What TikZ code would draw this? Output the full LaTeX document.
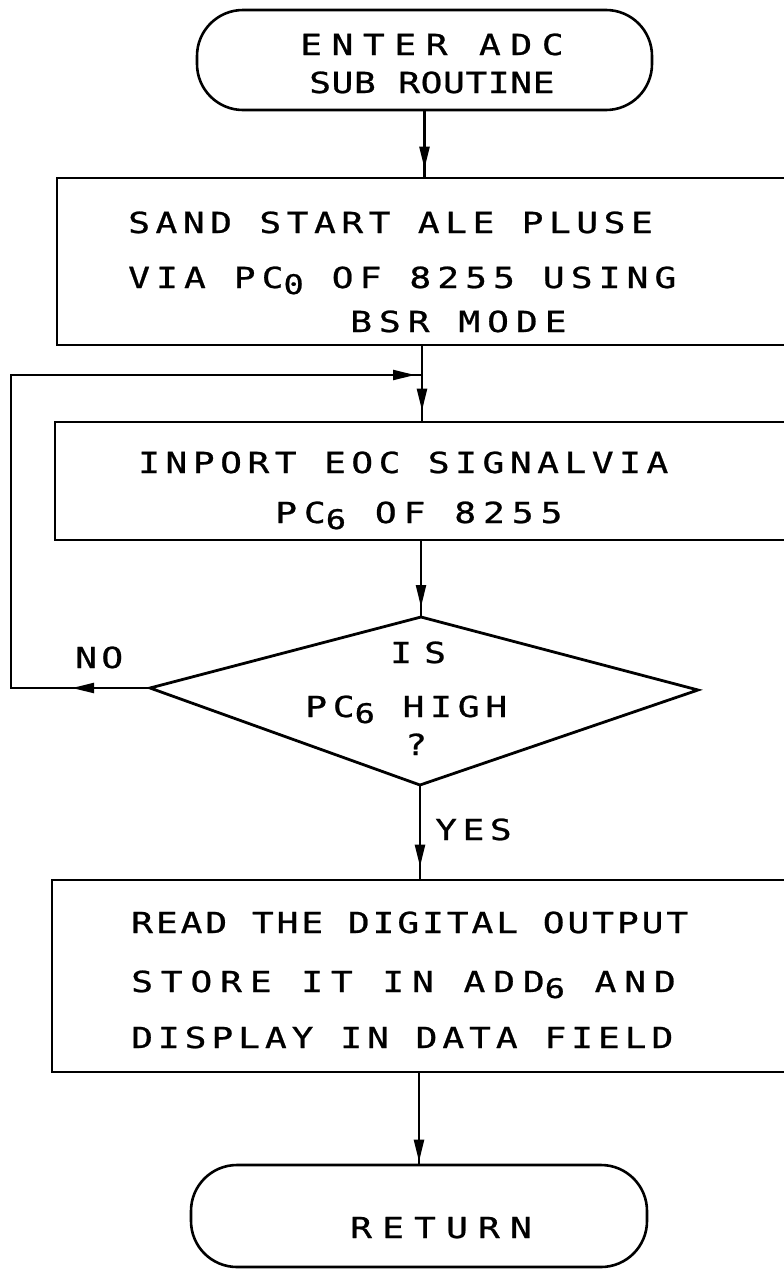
\documentclass[tikz,border=0pt]{standalone}
\usepackage{fontspec}
\setmainfont[FakeStretch=1.25,FakeBold=0.8]{DejaVu Sans Mono}
\usetikzlibrary{arrows.meta,decorations.markings}
\newcommand{\ls}[2]{{\addfontfeature{LetterSpace=#1}#2}}
\newcommand{\lowsub}[1]{\raisebox{-6pt}{\fontsize{27}{27}\selectfont #1}}
\tikzset{
  boxshape/.style={draw, line width=2.6pt, rectangle, inner sep=0pt},
  termshape/.style={draw, line width=2.6pt, rectangle, rounded corners=46pt, inner sep=0pt},
  txt/.style={anchor=base west, inner sep=0pt, font=\fontsize{29}{29}\selectfont},
  conn/.style={line width=2.3pt},
  tipat/.style={postaction={decorate}, decoration={markings,
      mark=at position #1 with {\arrow{Triangle[length=22pt,width=10pt]}}}}
}
\begin{document}
\begin{tikzpicture}[x=1pt,y=-1pt]
\useasboundingbox (0,0) rectangle (784,1269);
\clip (0,0) rectangle (784,1269);
\fill[white] (0,0) rectangle (784,1269);

% shapes
\node[termshape, minimum width=455pt, minimum height=100pt] (start) at (424.5,60) {};
\node[boxshape, minimum width=763pt, minimum height=167pt] (b1) at (438.5,261.5) {};
\node[boxshape, minimum width=765pt, minimum height=118pt] (b2) at (437.5,481) {};
\coordinate (dt) at (421,617);
\coordinate (dr) at (698,690);
\coordinate (db) at (420,785);
\coordinate (dl) at (150,688);
\draw[line width=2.8pt, line join=miter] (dt) -- (dr) -- (db) -- (dl) -- cycle;
\node[boxshape, minimum width=768pt, minimum height=192pt] (b3) at (436,976) {};
\node[termshape, minimum width=456pt, minimum height=102pt] (ret) at (419,1216) {};

% loop coordinates
\coordinate (j) at (422,375);
\coordinate (lb) at (11,688);
\coordinate (lt) at (11,375);

% connectors
\draw[conn, tipat=-8pt] (start.south) -- (start.south |- b1.north);
\draw[conn, tipat=-10pt] (b1.south -| j) -- (b2.north -| j);
\draw[conn, tipat=-10pt] (b2.south -| dt) -- (dt);
\draw[conn, tipat=-12pt] (db) -- (db |- b3.north);
\draw[conn, tipat=-2pt] (b3.south -| ret.north) -- (ret.north);
\draw[conn, postaction={decorate}, decoration={markings,
   mark=at position 78pt with {\arrow{Triangle[length=22pt,width=10pt]}},
   mark=at position -7pt with {\arrow{Triangle[length=22pt,width=10pt]}}}]
   (dl) -- (lb) -- (lt) -- (j);

% texts
\node[txt] (t1) at (300,55) {\ls{33}{ENTER ADC}};
\node[txt] (t2) at (309,93) {\ls{2}{SUB ROUTINE}};
\node[txt] (t3) at (128,233) {\ls{19}{SAND START ALE PLUSE}};
\node[txt] (t4) at (128,288) {\ls{21}{VIA PC\lowsub{0} OF 8255 USING}};
\node[txt] (t5) at (350,332) {\ls{24}{BSR MODE}};
\node[txt] (t6) at (138,473) {\ls{19}{INPORT EOC SIGNALVIA}};
\node[txt] (t7) at (275,523) {\ls{24}{PC\lowsub{6} OF 8255}};
\node[txt] (t8) at (390,663) {\ls{42}{IS}};
\node[txt] (t9) at (305,717) {\ls{20}{PC\lowsub{6} HIGH}};
\node[txt] (t10) at (405,755) {?};
\node[txt] (no) at (75,668) {\ls{15}{NO}};
\node[txt] (yes) at (435,840) {\ls{19}{YES}};
\node[txt] (t11) at (131,933) {\ls{10}{READ THE DIGITAL OUTPUT}};
\node[txt] (t12) at (131,992) {\ls{27}{STORE IT IN ADD\lowsub{6} AND}};
\node[txt] (t13) at (131,1048) {\ls{17}{DISPLAY IN DATA FIELD}};
\node[txt] (t14) at (350,1238) {\ls{35}{RETURN}};
\end{tikzpicture}
\end{document}
